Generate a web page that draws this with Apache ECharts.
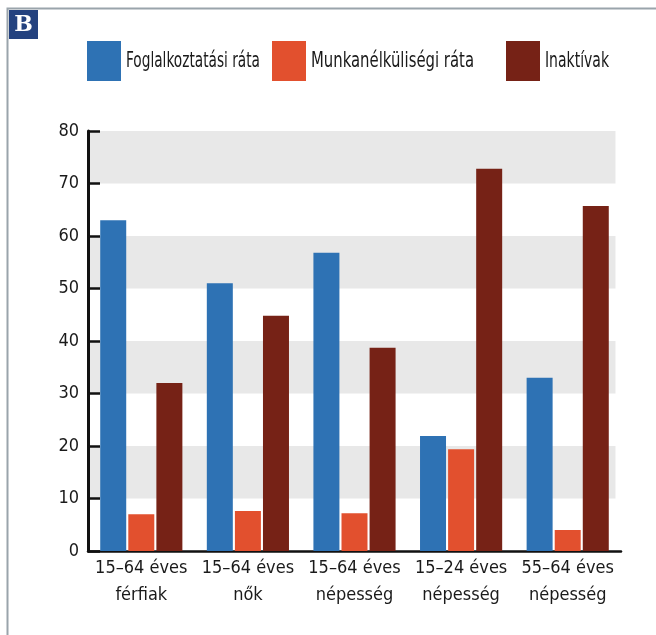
<!DOCTYPE html>
<html><head><meta charset="utf-8">
<script src="https://cdn.jsdelivr.net/npm/echarts@6/dist/echarts.min.js"></script>
<style>html,body{margin:0;padding:0;background:#fff}#c{width:656px;height:635px}</style>
</head><body><div id="c"></div>
<script>
const categories = ['15–64 éves\nférfiak', '15–64 éves\nnők', '15–64 éves\nnépesség', '15–24 éves\nnépesség', '55–64 éves\nnépesség'];
const seriesNames = ['Foglalkoztatási ráta', 'Munkanélküliségi ráta', 'Inaktívak'];
const foglalkoztatasi = [63, 51, 56.8, 21.9, 33];
const munkanelkulisegi = [7, 7.6, 7.2, 19.4, 4];
const inaktivak = [32, 44.8, 38.7, 72.8, 65.7];
const yTicks = [0, 10, 20, 30, 40, 50, 60, 70, 80];
const colors = ['#2E72B4', '#E2502E', '#762216'];

const FONT = '"DejaVu Sans Condensed","DejaVu Sans",sans-serif';
const chart = echarts.init(document.getElementById('c'));
const legendLefts = [87, 272, 506];
const legendTextWidths = [134, 163, 64];
const values = [foglalkoztatasi, munkanelkulisegi, inaktivak];

const ctx = document.createElement('canvas').getContext('2d');
const LFONT = '21px "DejaVu Sans Condensed","DejaVu Sans",sans-serif';
ctx.font = LFONT;
const legendTexts = seriesNames.map((n, i) => {
  const w = ctx.measureText(n).width;
  return { type: 'text', x: legendLefts[i] + 39, y: 62, scaleX: legendTextWidths[i] / w,
    style: { text: n, font: LFONT, fill: '#1a1a1a', align: 'left', verticalAlign: 'middle' } };
});

chart.setOption({
  animation: false,
  textStyle: { fontFamily: FONT },
  legend: seriesNames.map((n, i) => ({
    data: [n], left: legendLefts[i], top: 41, icon: 'rect', padding: 0,
    itemWidth: 34, itemHeight: 40, itemGap: 0, formatter: () => '',
    textStyle: { fontSize: 1 }
  })),
  grid: { left: 88, right: 35, top: 131, bottom: 84 },
  xAxis: {
    type: 'category', data: categories, boundaryGap: true,
    axisLine: { lineStyle: { color: '#111', width: 2.5 } },
    axisTick: { inside: true, length: 8, lineStyle: { color: '#111', width: 2 } },
    axisLabel: { fontSize: 18, color: '#1a1a1a', lineHeight: 27, margin: 4, fontFamily: FONT, interval: 0 }
  },
  yAxis: {
    type: 'value', min: yTicks[0], max: yTicks[yTicks.length - 1], interval: 10,
    axisLine: { show: true, lineStyle: { color: '#111', width: 3 } },
    axisTick: { show: true, inside: true, length: 12, lineStyle: { color: '#111', width: 2.5 } },
    axisLabel: { fontSize: 18, color: '#1a1a1a', margin: 9, fontFamily: FONT },
    splitLine: { show: false },
    splitArea: { show: true, areaStyle: { color: ['rgba(255,255,255,0)', '#E8E8E8'] } }
  },
  series: seriesNames.map((n, i) => ({
    name: n, type: 'bar', data: values[i], barWidth: 26, barGap: '8%',
    itemStyle: { color: colors[i] }
  })),
  graphic: [
    { type: 'rect', z: 1, shape: { x: 615.5, y: 129, width: 7, height: 413 }, style: { fill: '#fff' } },
    { type: 'polyline', shape: { points: [[7.5, 635], [7.5, 8.5], [656, 8.5]] }, style: { stroke: '#9AA4AB', lineWidth: 2, fill: null } },
    { type: 'rect', shape: { x: 9, y: 10, width: 29, height: 29 }, style: { fill: '#24427F' } },
    { type: 'text', x: 23.5, y: 25, style: { text: 'B', fill: '#fff', font: 'bold 22px "DejaVu Serif","Liberation Serif",serif', align: 'center', verticalAlign: 'middle' } }
  ].concat(legendTexts)
});
</script></body></html>
